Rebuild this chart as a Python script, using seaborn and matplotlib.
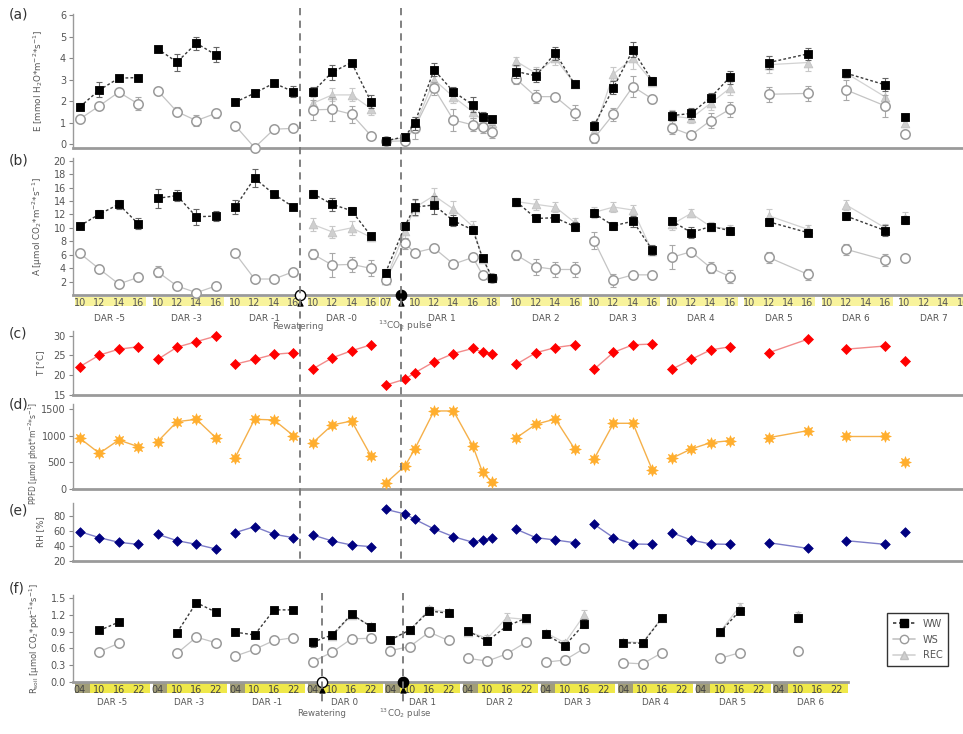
import numpy as np
import pandas as pd
import matplotlib
matplotlib.use("Agg")
import matplotlib.pyplot as plt
import seaborn as sns
from matplotlib.transforms import blended_transform_factory
from matplotlib.patches import Rectangle
from matplotlib.lines import Line2D

NAN = np.nan

# ---------------- data: panels (a)-(e) ----------------
DAYS = [-5, -3, -1, 0, 1, 2, 3, 4, 5, 6, 7]
DAY_LABELS_TOP = ["DAR -5", "DAR -3", "DAR -1", "DAR -0", "DAR 1", "DAR 2",
                  "DAR 3", "DAR 4", "DAR 5", "DAR 6", "DAR 7"]
TOP_TICK_GROUPS = [(-5, [10, 12, 14, 16]), (-3, [10, 12, 14, 16]), (-1, [10, 12, 14, 16]),
                   (0, [10, 12, 14, 16]), (1, [7]), (1, [10, 12, 14, 16, 18]),
                   (2, [10, 12, 14, 16]), (3, [10, 12, 14, 16]), (4, [10, 12, 14, 16]),
                   (5, [10, 12, 14, 16]), (6, [10, 12, 14, 16]), (7, [10, 12, 14, 16])]

TOP_DAY = [-5]*4 + [-3]*4 + [-1]*4 + [0]*4 + [1]*8 + [2]*4 + [3]*4 + [4]*4 + [5]*2 + [6]*2 + [7]
TOP_HOUR = [10, 12, 14, 16]*4 + [7, 9, 10, 12, 14, 16, 17, 18] + [10, 12, 14, 16]*3 + [12, 16]*2 + [10]

E_WW = [1.74, 2.52, 3.07, 3.10, 4.44, 3.82, 4.70, 4.16, 1.95, 2.37, 2.84, 2.44,
        2.44, 3.35, 3.80, 1.98, 0.15, 0.34, 0.97, 3.46, 2.44, 1.82, 1.27, 1.17,
        3.38, 3.18, 4.24, 2.79, 0.86, 2.63, 4.39, 2.94, 1.32, 1.43, 2.16, 3.12,
        3.80, 4.20, 3.30, 2.76, 1.25]
E_WW_SD = [0.15, 0.35, 0.15, 0.10, 0.15, 0.40, 0.30, 0.35, 0.15, 0.15, 0.10, 0.25,
           0.20, 0.35, 0.10, 0.30, 0.05, 0.10, 0.30, 0.30, 0.20, 0.35, 0.20, 0.15,
           0.30, 0.30, 0.30, 0.10, 0.20, 0.30, 0.35, 0.20, 0.20, 0.25, 0.20, 0.30,
           0.30, 0.30, 0.10, 0.30, 0.15]
E_WS = [1.17, 1.78, 2.42, 1.87, 2.49, 1.51, 1.09, 1.43, 0.86, -0.17, 0.69, 0.73,
        1.59, 1.62, 1.39, 0.39, 0.12, 0.15, 0.75, 2.60, 1.12, 0.89, 0.81, 0.57,
        3.02, 2.21, 2.21, 1.46, 0.27, 1.39, 2.68, 2.10, 0.76, 0.42, 1.09, 1.62,
        2.32, 2.36, 2.52, 1.78, 0.47]
E_WS_SD = [0.10, 0.10, 0.15, 0.30, 0.10, 0.20, 0.25, 0.20, 0.10, 0.10, 0.10, 0.10,
           0.45, 0.55, 0.40, 0.10, 0.05, 0.10, 0.50, 0.30, 0.50, 0.30, 0.30, 0.30,
           0.20, 0.30, 0.10, 0.35, 0.20, 0.30, 0.50, 0.20, 0.30, 0.10, 0.35, 0.35,
           0.35, 0.35, 0.45, 0.50, 0.20]
E_REC = [NAN]*12 + [1.90, 2.29, 2.29, 1.65, 0.15, 0.30, 0.80, 3.00, 2.20, 1.50, 1.10, 1.00,
                    3.85, 3.30, 4.00, 2.80, 0.60, 3.27, 4.00, 2.90, 1.30, 1.20, 1.90, 2.60,
                    3.70, 3.80, 3.30, 2.20, 1.00]
E_REC_SD = [NAN]*12 + [0.3, 0.3, 0.3, 0.3, 0.05, 0.1, 0.3, 0.4, 0.3, 0.3, 0.2, 0.2,
                       0.2, 0.3, 0.3, 0.2, 0.2, 0.3, 0.5, 0.2, 0.3, 0.2, 0.3, 0.3,
                       0.4, 0.4, 0.2, 0.4, 0.2]

A_WW = [10.3, 12.05, 13.5, 10.6, 14.4, 14.8, 11.65, 11.75, 13.1, 17.4, 15.0, 13.1,
        15.1, 13.5, 12.55, 8.8, 3.3, 10.3, 13.1, 13.4, 11.05, 9.7, 5.5, 2.6,
        13.9, 11.4, 11.5, 10.2, 12.15, 10.3, 11.0, 6.7, 11.05, 9.3, 10.2, 9.6,
        10.9, 9.3, 11.75, 9.6, 11.2]
A_WW_SD = [0.4, 0.6, 0.7, 0.8, 1.4, 0.8, 1.2, 0.8, 1.0, 1.3, 0.5, 0.4,
           0.6, 1.0, 0.5, 0.5, 0.5, 0.6, 1.2, 1.4, 0.8, 0.6, 0.5, 0.5,
           0.6, 0.6, 0.5, 0.6, 0.6, 0.6, 0.8, 0.8, 0.5, 0.8, 0.5, 0.6,
           0.6, 0.5, 0.6, 0.8, 0.6]
A_WS = [6.2, 3.87, 1.64, 2.63, 3.47, 1.34, 0.35, 1.34, 6.2, 2.38, 2.38, 3.47,
        6.1, 4.46, 4.56, 3.97, 2.2, 7.7, 6.3, 7.0, 4.6, 5.6, 3.0, 2.5,
        5.95, 4.2, 3.8, 3.8, 8.1, 2.2, 3.0, 3.0, 5.6, 6.45, 4.07, 2.73,
        5.6, 3.1, 6.8, 5.2, 5.45]
A_WS_SD = [0.4, 0.4, 0.3, 0.3, 0.8, 0.3, 0.3, 0.3, 0.6, 0.3, 0.3, 0.3,
           0.7, 1.8, 1.1, 1.2, 0.3, 0.8, 0.5, 0.5, 0.6, 0.5, 0.4, 0.3,
           0.8, 1.2, 1.1, 1.1, 1.3, 1.0, 0.4, 0.6, 1.8, 0.3, 0.8, 1.0,
           0.8, 0.8, 0.8, 0.9, 0.3]
A_REC = [NAN]*12 + [10.5, 9.4, 10.0, 8.6, 2.2, 9.5, 13.0, 14.8, 12.8, 10.2, 5.4, 2.5,
                    13.9, 13.5, 13.1, 10.8, 12.3, 13.1, 12.65, 6.5, 10.5, 12.15, 10.2, 9.8,
                    11.8, 9.8, 13.4, 10.0, 11.5]
A_REC_SD = [NAN]*12 + [1.0, 0.9, 1.0, 0.5, 0.3, 1.0, 1.2, 1.2, 1.2, 0.8, 0.5, 0.4,
                       0.5, 0.8, 0.8, 0.6, 0.8, 0.8, 0.8, 0.6, 0.8, 0.6, 0.6, 0.6,
                       1.0, 0.6, 0.8, 0.6, 0.8]

T_AIR = [22.2, 25.1, 26.6, 27.2, 24.0, 27.1, 28.5, 29.9, 22.8, 24.0, 25.3, 25.7,
         21.6, 24.4, 26.2, 27.7, 17.5, 19.0, 20.6, 23.4, 25.5, 26.8, 25.8, 25.5,
         22.8, 25.7, 27.0, 27.7, 21.5, 25.8, 27.7, 27.9, 21.5, 24.0, 26.4, 27.2,
         25.7, 29.1, 26.6, 27.4, 23.7]
PPFD = [954, 672, 923, 797, 891, 1267, 1312, 966, 590, 1312, 1300, 1004,
        872, 1205, 1280, 621, 107, 433, 747, 1469, 1469, 810, 314, 126,
        966, 1218, 1318, 753, 565, 1237, 1237, 358, 578, 753, 872, 910,
        966, 1098, 1004, 1004, 503]
RH = [59.1, 51.1, 44.9, 42.2, 55.6, 47.1, 42.2, 36.0, 57.8, 65.8, 55.6, 51.1,
      54.7, 46.7, 41.3, 39.1, 88.9, 82.7, 75.6, 62.7, 52.4, 45.0, 48.0, 50.2,
      62.2, 51.1, 48.0, 44.4, 68.9, 51.1, 42.7, 42.2, 57.8, 48.0, 42.7, 42.2,
      44.4, 36.9, 47.1, 42.2, 58.2]

# ---------------- data: panel (f) ----------------
SOIL_DAYS = [-5, -3, -1, 0, 1, 2, 3, 4, 5, 6]
SOIL_DAY_LABELS = ["DAR -5", "DAR -3", "DAR -1", "DAR 0", "DAR 1", "DAR 2",
                   "DAR 3", "DAR 4", "DAR 5", "DAR 6"]
SOIL_TICK_HOURS = [4, 10, 16, 22]
SOIL_DAY = [-5]*2 + [-3]*3 + [-1]*4 + [0]*4 + [1]*4 + [2]*4 + [3]*3 + [4]*3 + [5]*2 + [6]
SOIL_HOUR = [10, 16, 10, 16, 22] + [4, 10, 16, 22]*4 + [4, 10, 16]*2 + [10, 16] + [10]

R_WW = [0.92, 1.07, 0.88, 1.42, 1.25, 0.89, 0.84, 1.29, 1.29, 0.71, 0.84, 1.21, 0.99,
        0.75, 0.93, 1.27, 1.23, 0.91, 0.73, 1.00, 1.14, 0.85, 0.65, 1.04,
        0.70, 0.69, 1.14, 0.89, 1.27, 1.14]
R_WW_SD = [0.03, 0.03, 0.03, 0.03, 0.03, 0.03, 0.06, 0.03, 0.03, 0.08, 0.03, 0.03, 0.05,
           0.03, 0.03, 0.03, 0.03, 0.03, 0.05, 0.05, 0.03, 0.03, 0.04, 0.08,
           0.03, 0.03, 0.03, 0.03, 0.05, 0.06]
R_WS = [0.54, 0.69, 0.51, 0.80, 0.70, 0.46, 0.58, 0.74, 0.79, 0.36, 0.53, 0.77, 0.78,
        0.56, 0.63, 0.89, 0.74, 0.42, 0.37, 0.50, 0.71, 0.35, 0.39, 0.60,
        0.34, 0.32, 0.52, 0.42, 0.52, 0.55]
R_WS_SD = [0.04, 0.03, 0.03, 0.03, 0.03, 0.03, 0.03, 0.03, 0.03, 0.04, 0.03, 0.05, 0.05,
           0.03, 0.03, 0.03, 0.04, 0.03, 0.03, 0.03, 0.04, 0.03, 0.03, 0.03,
           0.03, 0.03, 0.03, 0.03, 0.03, 0.03]
R_REC = [NAN]*9 + [NAN, 0.82, 1.20, 1.00, 0.75, 0.92, 1.30, 1.25, 0.90, 0.78, 1.15, 1.12,
                   0.88, 0.70, 1.20, 0.72, 0.70, 1.15, 0.90, 1.35, 1.20]
R_REC_SD = [NAN]*9 + [NAN, 0.04, 0.05, 0.05, 0.04, 0.04, 0.06, 0.05, 0.04, 0.06, 0.08, 0.05,
                      0.04, 0.05, 0.08, 0.04, 0.04, 0.05, 0.04, 0.06, 0.06]

# events (day, hour) on each time axis
EVENTS_TOP = [("Rewatering", 0, 8.7, "white"), ("$^{13}$CO$_2$ pulse", 1, 8.6, "black")]
EVENTS_SOIL = [("Rewatering", 0, 7.0, "white"), ("$^{13}$CO$_2$ pulse", 1, 7.9, "black")]

# ---------------- axis scales ----------------
TOP_BLOCK_START = [0, 8, 16, 24, 34.5, 45, 53, 61, 69, 77, 85]   # axis position of 10:00 of each day


def top_x(day, hour):
    return TOP_BLOCK_START[DAYS.index(day)] + hour - 10


def soil_x(day, hour):
    return SOIL_DAYS.index(day) * 4 + (hour - 4) / 6.0


top = pd.DataFrame({"day": TOP_DAY, "hour": TOP_HOUR})
top["x"] = [top_x(d, h) for d, h in zip(TOP_DAY, TOP_HOUR)]
soil = pd.DataFrame({"day": SOIL_DAY, "hour": SOIL_HOUR})
soil["x"] = [soil_x(d, h) for d, h in zip(SOIL_DAY, SOIL_HOUR)]

# ---------------- figure ----------------
sns.set_theme(style="white", context="paper")
plt.rcParams["font.family"] = ["DejaVu Sans"]
plt.rcParams["mathtext.default"] = "regular"

W, H = 963, 734
fig = plt.figure(figsize=(W / 100, H / 100), dpi=100)


def add_ax(l, t, r, b):
    return fig.add_axes([l / W, 1 - b / H, (r - l) / W, (b - t) / H])


ax_a = add_ax(73, 14.3, 963, 148.3)
ax_b = add_ax(73, 158, 963, 295)
ax_c = add_ax(73, 330.6, 963, 395)
ax_d = add_ax(73, 404, 963, 489)
ax_e = add_ax(73, 503, 963, 561)
ax_f = add_ax(73, 595.4, 848, 681.7)

TOP_XLIM = (-0.72, 91.03)
SOIL_XLIM = (-0.36, 39.59)

TXT = "#555555"
SPINE = "#9a9a9a"

STYLE = {
    "WW": dict(lc="#3a3a3a", ls=(0, (2, 1.6)), lw=1.0, m="s", s=38, fc="black", mec="black", mew=0.6, ec="#666666", z=6),
    "WS": dict(lc="#c4c4c4", ls="-", lw=0.9, m="o", s=46, fc="white", mec="#9a9a9a", mew=1.1, ec="#a8a8a8", z=4),
    "REC": dict(lc="#d2d2d2", ls="-", lw=0.9, m="^", s=40, fc="#cfcfcf", mec="#c0c0c0", mew=0.5, ec="#c8c8c8", z=3),
}


def treat_panel(ax, base, series):
    for trt, vals, sds in series:
        st = STYLE[trt]
        d = base.assign(val=vals, sd=sds).dropna(subset=["val"])
        sns.lineplot(data=d, x="x", y="val", units="day", estimator=None, color=st["lc"],
                     linewidth=st["lw"], linestyle=st["ls"], ax=ax, legend=False, zorder=st["z"])
        ax.errorbar(d["x"], d["val"], yerr=d["sd"], fmt="none", ecolor=st["ec"],
                    elinewidth=0.8, capsize=2, capthick=0.8, zorder=st["z"])
        sns.scatterplot(data=d, x="x", y="val", marker=st["m"], s=st["s"], color=st["fc"],
                        edgecolor=st["mec"], linewidth=st["mew"], ax=ax, legend=False,
                        zorder=st["z"] + 0.5, clip_on=False)


def single_panel(ax, y, lc, mc, marker, s):
    d = top.assign(val=y)
    sns.lineplot(data=d, x="x", y="val", units="day", estimator=None, color=lc,
                 linewidth=1.0, ax=ax, legend=False, zorder=3)
    sns.scatterplot(data=d, x="x", y="val", marker=marker, s=s, color=mc, edgecolor=mc,
                    linewidth=0.5, ax=ax, legend=False, zorder=4)


treat_panel(ax_a, top, [("REC", E_REC, E_REC_SD), ("WS", E_WS, E_WS_SD), ("WW", E_WW, E_WW_SD)])
treat_panel(ax_b, top, [("REC", A_REC, A_REC_SD), ("WS", A_WS, A_WS_SD), ("WW", A_WW, A_WW_SD)])
single_panel(ax_c, T_AIR, "#f28a8a", "#ff0000", "D", 26)
single_panel(ax_d, PPFD, "#f5b04a", "#ffae2e", (8, 1, 0), 70)
single_panel(ax_e, RH, "#7d7dc8", "#000080", "D", 24)
treat_panel(ax_f, soil, [("REC", R_REC, R_REC_SD), ("WS", R_WS, R_WS_SD), ("WW", R_WW, R_WW_SD)])

# ---------------- axes styling ----------------
specs = [
    (ax_a, (-0.2, 6.05), np.arange(0, 7, 1), "{:.0f}", "E [mmol H$_2$O*m$^{-2}$*s$^{-1}$]", 6.3, 45, 0.5),
    (ax_b, (0, 20.4), np.arange(2, 21, 2), "{:.0f}", "A [µmol CO$_2$*m$^{-2}$*s$^{-1}$]", 6.3, 45, 0.5),
    (ax_c, (15, 31.3), [15, 20, 25, 30], "{:.0f}", "T [°C]", 6.3, 45, 0.5),
    (ax_d, (0, 1600), [0, 500, 1000, 1500], "{:.0f}", "PPFD [µmol phot*m$^{-2}$*s$^{-1}$]", 5.5, 41, 0.42),
    (ax_e, (20, 97.3), [20, 40, 60, 80], "{:.0f}", "RH [%]", 6.3, 45, 0.5),
    (ax_f, (0, 1.55), [0.0, 0.3, 0.6, 0.9, 1.2, 1.5], "{:.1f}", "R$_{soil}$ [µmol CO$_2$*pot$^{-1}$*s$^{-1}$]", 6.0, 42, 0.5),
]
for ax, ylim, yt, fmt, lab, lfs, lx, ly in specs:
    ax.set_ylim(*ylim)
    ax.set_yticks(yt)
    ax.set_yticklabels([fmt.format(v) for v in yt])
    ax.set_xlim(*(SOIL_XLIM if ax is ax_f else TOP_XLIM))
    for side in ("top", "right"):
        ax.spines[side].set_visible(False)
    ax.spines["left"].set_color(SPINE)
    ax.spines["left"].set_linewidth(1.0)
    ax.spines["bottom"].set_color(SPINE)
    ax.spines["bottom"].set_linewidth(2.0)
    ax.tick_params(axis="y", labelsize=7, labelcolor=TXT, color="#888888", length=3,
                   width=0.8, pad=2, left=True)
    ax.set_xlabel("")
    ax.set_ylabel(lab, fontsize=lfs, color=TXT, labelpad=0)
    ax.set_facecolor("none")
    width_px = 775 if ax is ax_f else 890
    ax.yaxis.set_label_coords((lx - 73) / width_px, ly)

for ax in (ax_a, ax_c, ax_d, ax_e):
    ax.set_xticks([])

# ---- x ticks of panel (b): highlighted hour labels + day labels ----
tb = blended_transform_factory(ax_b.transData, ax_b.transAxes)
bx, bl = [], []
for day, hours in TOP_TICK_GROUPS:
    xs = [top_x(day, h) for h in hours]
    bx += xs
    bl += ["%02d" % h for h in hours]
    x0 = min(xs) - (0.6 if len(hours) == 1 else 0.5)
    x1 = max(xs) + (0.6 if len(hours) == 1 else 0.8)
    ax_b.add_patch(Rectangle((x0, -0.078), x1 - x0, 0.066, transform=tb, facecolor="#f8f39c",
                             edgecolor="none", clip_on=False, zorder=0))
ax_b.set_xticks(bx)
ax_b.set_xticklabels(bl)
ax_b.tick_params(axis="x", length=0, pad=2.2, labelsize=7, labelcolor=TXT)
for day, lab in zip(DAYS, DAY_LABELS_TOP):
    xs = [top_x(d, h) for d, hs in TOP_TICK_GROUPS if d == day for h in hs]
    ax_b.text(np.mean(xs), -0.168, lab, transform=tb, ha="center", va="center",
              fontsize=6.5, color=TXT)

# ---- x ticks of panel (f) ----
tf = blended_transform_factory(ax_f.transData, ax_f.transAxes)
fx, fl = [], []
for day, lab in zip(SOIL_DAYS, SOIL_DAY_LABELS):
    xs = [soil_x(day, h) for h in SOIL_TICK_HOURS]
    fx += xs
    fl += ["%02d" % h for h in SOIL_TICK_HOURS]
    ax_f.add_patch(Rectangle((xs[0] - 0.26, -0.131), 0.76, 0.116, transform=tf,
                             facecolor="#a29e78", edgecolor="none", clip_on=False, zorder=0))
    ax_f.add_patch(Rectangle((xs[0] + 0.5, -0.131), 3.1, 0.116, transform=tf,
                             facecolor="#efe84a", edgecolor="none", clip_on=False, zorder=0))
    ax_f.text(np.mean(xs) + 0.15, -0.245, lab, transform=tf, ha="center", va="center",
              fontsize=6.3, color=TXT)
ax_f.set_xticks(fx)
ax_f.set_xticklabels(fl)
ax_f.tick_params(axis="x", length=0, pad=2.5, labelsize=7, labelcolor="#444444")

# ---------------- events ----------------
inv = fig.transFigure.inverted()


def fig_x(ax, x):
    return inv.transform(ax.transData.transform((x, ax.get_ylim()[0])))[0]


def draw_events(ax, events, xfun, trans, y_top_px, y_bot_px, lab_y, fs):
    for lab, day, hour, fc in events:
        x = xfun(day, hour)
        fxx = fig_x(ax, x)
        fig.add_artist(Line2D([fxx, fxx], [1 - y_top_px / H, 1 - y_bot_px / H], transform=fig.transFigure,
                              color="#777777", linestyle=(0, (4, 3)), linewidth=1.3, zorder=1))
        ax.scatter([x], [ax.get_ylim()[0]], marker="o", s=55, facecolor=fc, edgecolor="black",
                   linewidth=1.0, clip_on=False, zorder=10)
        ax.scatter([x], [-0.06 if ax is ax_b else -0.1], marker="^", s=14, color="black",
                   transform=trans, clip_on=False, zorder=10)
        dx = 0.4 if "pulse" in lab else -0.2
        ax.text(x + (dx if ax is ax_b else dx * 0.25), lab_y, lab, transform=trans, ha="center",
                va="center", fontsize=fs, color="#666666")


draw_events(ax_b, EVENTS_TOP, top_x, tb, 8, 561, -0.228, 6.5)
draw_events(ax_f, EVENTS_SOIL, soil_x, tf, 593, 706, -0.37, 6.2)

# ---------------- panel letters ----------------
for lab, ypx in zip(["(a)", "(b)", "(c)", "(d)", "(e)", "(f)"], [15, 161, 334, 405, 511, 588]):
    fig.text(9 / W, 1 - ypx / H, lab, fontsize=10, color="#333333", va="center", ha="left")

# ---------------- legend ----------------
handles = [
    Line2D([], [], color=STYLE["WW"]["lc"], linestyle=STYLE["WW"]["ls"], marker="s", markersize=5.5,
           markerfacecolor="black", markeredgecolor="black"),
    Line2D([], [], color=STYLE["WS"]["lc"], marker="o", markersize=6, markerfacecolor="white",
           markeredgecolor="#9a9a9a"),
    Line2D([], [], color=STYLE["REC"]["lc"], marker="^", markersize=5.5, markerfacecolor="#cfcfcf",
           markeredgecolor="#c0c0c0"),
]
leg = fig.legend(handles, ["WW", "WS", "REC"], loc="upper left", bbox_to_anchor=(882 / W, 1 - 608 / H),
                 fontsize=7, frameon=True, fancybox=False, edgecolor="#333333", framealpha=1,
                 handlelength=2.3, labelspacing=0.6, borderpad=0.6)
for t in leg.get_texts():
    t.set_color(TXT)
leg.get_frame().set_linewidth(1.0)

fig.savefig("out.png", dpi=100, facecolor="white")
